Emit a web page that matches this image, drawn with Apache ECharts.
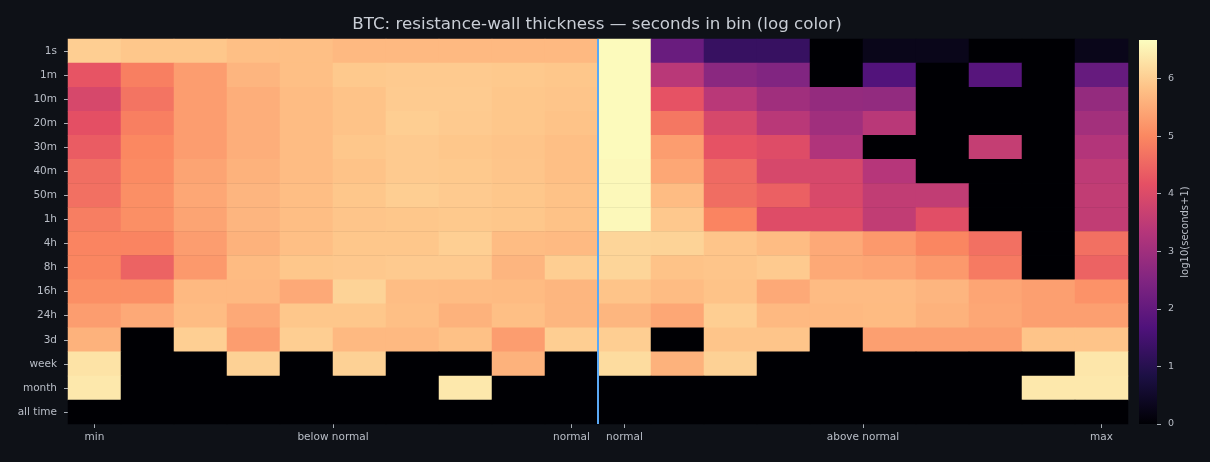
<!DOCTYPE html>
<html lang="en">
<head>
<meta charset="UTF-8">
<title>BTC resistance-wall thickness</title>
<script src="https://cdn.jsdelivr.net/npm/echarts@6/dist/echarts.min.js"></script>
<style>
    html, body { margin: 0; padding: 0; background: #0e1117; }
    #main { width: 1210px; height: 462px; }
</style>
</head>
<body>
<div id="main"></div>
<script>
// rows of the heatmap, top to bottom
var rowLabels = ['1s', '1m', '10m', '20m', '30m', '40m', '50m', '1h', '4h', '8h', '16h', '24h', '3d', 'week', 'month', 'all time'];
// bottom ticks sit at column positions (half steps allowed)
var tickPos = [0, 4.5, 9, 10, 14.5, 19];
var tickLabels = ['min', 'below normal', 'normal', 'normal', 'above normal', 'max'];
var splitPos = 9.5;   // blue divider between the two "normal" columns
var colorTicks = [0, 1, 2, 3, 4, 5, 6];
var vmax = 6.67;

// log10(seconds+1) per cell, one array per row, 20 columns each
var r1s    = [6.00, 5.90, 5.90, 5.80, 5.80, 5.70, 5.70, 5.70, 5.70, 5.70, 6.63, 2.10, 1.27, 1.27, 0, 0.29, 0.29, 0, 0, 0.29];
var r1m    = [4.23, 4.87, 5.30, 5.65, 5.80, 5.93, 5.95, 5.95, 5.93, 5.90, 6.63, 3.40, 2.65, 2.50, 0, 1.72, 0, 1.80, 0, 2.05];
var r10m   = [3.90, 4.70, 5.30, 5.55, 5.75, 5.85, 5.97, 5.97, 5.90, 5.88, 6.63, 4.20, 3.40, 3.00, 2.80, 2.78, 0, 0, 0, 2.80];
var r20m   = [4.15, 4.87, 5.30, 5.55, 5.75, 5.85, 6.00, 5.95, 5.90, 5.85, 6.63, 4.75, 3.90, 3.40, 3.00, 3.40, 0, 0, 0, 3.05];
var r30m   = [4.35, 5.00, 5.30, 5.55, 5.75, 5.90, 5.95, 5.90, 5.87, 5.80, 6.63, 5.30, 4.20, 4.05, 3.25, 0, 0, 3.60, 0, 3.30];
var r40m   = [4.62, 5.05, 5.40, 5.60, 5.75, 5.85, 5.95, 5.93, 5.88, 5.80, 6.60, 5.45, 4.55, 3.90, 3.90, 3.35, 0, 0, 0, 3.50];
var r50m   = [4.65, 5.10, 5.45, 5.65, 5.78, 5.90, 6.00, 5.95, 5.90, 5.83, 6.60, 5.75, 4.60, 4.40, 3.95, 3.55, 3.55, 0, 0, 3.55];
var r1h    = [4.85, 5.10, 5.40, 5.65, 5.78, 5.88, 5.90, 5.93, 5.90, 5.83, 6.60, 5.92, 4.95, 4.05, 4.05, 3.55, 4.10, 0, 0, 3.55];
var r4h    = [4.95, 4.95, 5.30, 5.60, 5.80, 5.90, 5.90, 6.02, 5.75, 5.72, 6.10, 6.08, 5.88, 5.75, 5.48, 5.25, 4.98, 4.65, 0, 4.65];
var r8h    = [4.98, 4.45, 5.25, 5.73, 5.90, 5.92, 5.95, 5.95, 5.65, 6.00, 6.10, 5.85, 5.88, 5.95, 5.47, 5.42, 5.25, 4.80, 0, 4.45];
var r16h   = [5.10, 5.10, 5.70, 5.70, 5.48, 6.08, 5.77, 5.75, 5.73, 5.67, 5.87, 5.75, 5.85, 5.48, 5.74, 5.74, 5.65, 5.42, 5.33, 5.15];
var r24h   = [5.30, 5.48, 5.75, 5.48, 5.90, 5.90, 5.80, 5.60, 5.80, 5.67, 5.67, 5.45, 6.00, 5.70, 5.70, 5.73, 5.60, 5.45, 5.33, 5.33];
var r3d    = [5.60, 0, 6.02, 5.30, 6.00, 5.70, 5.70, 5.82, 5.30, 6.00, 6.00, 0, 5.88, 5.88, 0, 5.33, 5.33, 5.33, 5.87, 5.87];
var rWeek  = [6.30, 0, 0, 6.05, 0, 6.05, 0, 0, 5.60, 0, 6.20, 5.60, 6.05, 0, 0, 0, 0, 0, 0, 6.35];
var rMonth = [6.38, 0, 0, 0, 0, 0, 0, 6.38, 0, 0, 0, 0, 0, 0, 0, 0, 0, 0, 6.38, 6.38];
var rAll   = [0, 0, 0, 0, 0, 0, 0, 0, 0, 0, 0, 0, 0, 0, 0, 0, 0, 0, 0, 0];

var rows = [r1s, r1m, r10m, r20m, r30m, r40m, r50m, r1h, r4h, r8h, r16h, r24h, r3d, rWeek, rMonth, rAll];

// magma colormap stops (0 -> 1)
var magma = ['#000004', '#1c1044', '#4f127b', '#812581', '#b5367a', '#e55064', '#fb8861', '#fec287', '#fcfdbf'];

var colNames = [];
for (var c = 0; c < r1s.length; c++) colNames.push('c' + c);

var cells = [];
rows.forEach(function (row, y) {
    row.forEach(function (v, x) { cells.push([x, y, v]); });
});

// half-step axis used for the tick labels and the divider
var halfSteps = [];
for (var k = 0; k <= colNames.length * 2; k++) halfSteps.push(String(-0.5 + k * 0.5));
var tickKeys = tickPos.map(String);
function isTick(i, v) { return tickKeys.indexOf(v) >= 0; }

var gradStops = magma.map(function (col, i) {
    return { offset: 1 - i / (magma.length - 1), color: col };
});

var textCol = '#b9bec7';
var font = 'DejaVu Sans';

var myChart = echarts.init(document.getElementById('main'));
var option = {
    backgroundColor: '#0e1117',
    animation: false,
    title: {
        text: 'BTC: resistance-wall thickness \u2014 seconds in bin (log color)',
        left: 592,
        textAlign: 'center',
        top: 11,
        textStyle: { color: '#c9ced6', fontSize: 16.7, fontWeight: 'normal', fontFamily: font }
    },
    visualMap: {
        show: false,
        type: 'continuous',
        min: 0,
        max: vmax,
        seriesIndex: 0,
        inRange: { color: magma }
    },
    grid: [
        { left: 68, right: 82, top: 39, bottom: 38 },
        { left: 1139, width: 18, top: 40, bottom: 38 }
    ],
    xAxis: [
        { type: 'category', gridIndex: 0, data: colNames, show: false },
        {
            type: 'category', gridIndex: 0, data: halfSteps, boundaryGap: false, position: 'bottom',
            axisLine: { show: false },
            axisTick: { show: true, interval: isTick, length: 4, lineStyle: { color: '#aab0b8' } },
            axisLabel: {
                interval: isTick, margin: 8, color: textCol, fontSize: 10.5, fontFamily: font,
                formatter: function (v) { return tickLabels[tickKeys.indexOf(v)]; }
            },
            splitLine: { show: false }
        },
        { type: 'category', gridIndex: 1, data: ['bar'], show: false }
    ],
    yAxis: [
        {
            type: 'category', gridIndex: 0, data: rowLabels, inverse: true,
            axisLine: { show: false },
            axisTick: { show: true, length: 4, alignWithLabel: true, lineStyle: { color: '#aab0b8' } },
            axisLabel: { margin: 11, color: textCol, fontSize: 10.5, fontFamily: font },
            splitLine: { show: false }
        },
        {
            type: 'value', gridIndex: 1, min: 0, max: vmax, interval: 1, position: 'right',
            name: 'log10(seconds+1)', nameLocation: 'middle', nameRotate: 90, nameGap: 23,
            nameTextStyle: { color: textCol, fontSize: 10, fontFamily: font },
            axisLine: { show: false },
            axisTick: { show: true, length: 4, lineStyle: { color: '#aab0b8' } },
            axisLabel: {
                margin: 11, color: textCol, fontSize: 9.5, fontFamily: font, showMaxLabel: false,
                formatter: function (v) { return colorTicks.indexOf(v) >= 0 ? String(v) : ''; }
            },
            splitLine: { show: false }
        }
    ],
    series: [
        {
            type: 'heatmap',
            xAxisIndex: 0, yAxisIndex: 0,
            data: cells,
            itemStyle: { borderWidth: 0 },
            emphasis: { disabled: true }
        },
        {
            type: 'scatter',
            xAxisIndex: 1, yAxisIndex: 0,
            data: [],
            markLine: {
                silent: true,
                symbol: 'none',
                label: { show: false },
                lineStyle: { color: '#5aa8f5', width: 2, type: 'solid', opacity: 1 },
                data: [{ xAxis: String(splitPos) }]
            }
        },
        {
            type: 'bar',
            xAxisIndex: 2, yAxisIndex: 1,
            data: [vmax],
            barWidth: '100%',
            silent: true,
            itemStyle: { color: new echarts.graphic.LinearGradient(0, 0, 0, 1, gradStops) }
        }
    ]
};
myChart.setOption(option);
</script>
</body>
</html>
